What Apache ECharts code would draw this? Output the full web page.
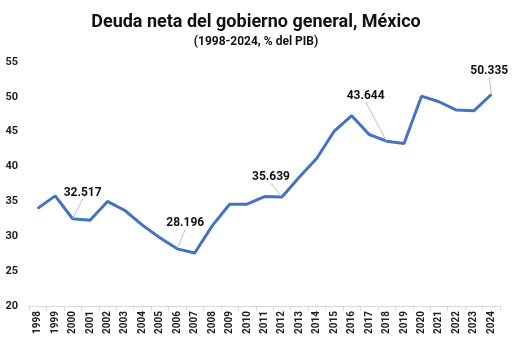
<!DOCTYPE html>
<html><head><meta charset="utf-8">
<script src="https://cdn.jsdelivr.net/npm/echarts@6/dist/echarts.min.js"></script>
<style>html,body{margin:0;padding:0;background:#fff}#c{width:512px;height:342px}</style>
</head><body><div id="c"></div>
<script>
const years = ['1998','1999','2000','2001','2002','2003','2004','2005','2006','2007','2008','2009','2010','2011','2012','2013','2014','2015','2016','2017','2018','2019','2020','2021','2022','2023','2024'];
const deuda = [34.0,35.8,32.517,32.3,35.0,33.7,31.6,29.8,28.196,27.6,31.5,34.6,34.6,35.7,35.639,38.5,41.2,45.1,47.3,44.6,43.644,43.3,50.1,49.3,48.1,48.0,50.335];
const labeledYears = ['2000','2006','2012','2018','2024'];
const labelOffsets = {'2000':[10,-17],'2006':[8,-17],'2012':[-11,-11],'2018':[-21,-37],'2024':[-2,-15]};
const yTicks = {min:20, max:55, interval:5};

const FONT = 'Roboto';
const chart = echarts.init(document.getElementById('c'));
chart.setOption({
  animation:false,
  title:{
    text:'Deuda neta del gobierno general, México',
    subtext:'(1998-2024, % del PIB)',
    left:'center', top:8, itemGap:5,
    textStyle:{fontFamily:FONT,fontWeight:'bold',fontSize:18,color:'#111'},
    subtextStyle:{fontFamily:FONT,fontWeight:'bold',fontSize:12,color:'#111'}
  },
  grid:{left:29,right:12,top:62,bottom:36},
  xAxis:{
    type:'category', data:years, boundaryGap:true,
    axisLine:{lineStyle:{color:'#d9d9d9'}},
    axisTick:{show:true,length:5,lineStyle:{color:'#d9d9d9'}},
    axisLabel:{rotate:90,fontFamily:FONT,fontWeight:'bold',fontSize:10,color:'#222',margin:5,interval:0}
  },
  yAxis:{
    type:'value', min:yTicks.min, max:yTicks.max, interval:yTicks.interval,
    splitLine:{show:false}, axisLine:{show:false}, axisTick:{show:false},
    axisLabel:{fontFamily:FONT,fontWeight:'bold',fontSize:11,color:'#222',margin:11}
  },
  series:[{
    type:'line', data:deuda.map((v,i)=>{
      const y = years[i];
      if(labeledYears.includes(y)){
        return {value:v,label:{show:true,formatter:v.toFixed(3)}};
      }
      return v;
    }),
    symbol:'circle', symbolSize:1, showSymbol:true, showAllSymbol:true, smooth:false,
    itemStyle:{color:'#4472C4'},
    lineStyle:{color:'#4472C4',width:3},
    label:{show:false,position:'top',distance:2,fontFamily:FONT,fontWeight:'bold',fontSize:12,color:'#111'},
    labelLine:{show:true,lineStyle:{color:'#bfbfbf',width:1}},
    labelLayout:function(p){
      const y = years[p.dataIndex];
      const o = labelOffsets[y];
      if(!o) return {};
      return {dx:o[0], dy:o[1]};
    }
  }]
});
</script></body></html>
